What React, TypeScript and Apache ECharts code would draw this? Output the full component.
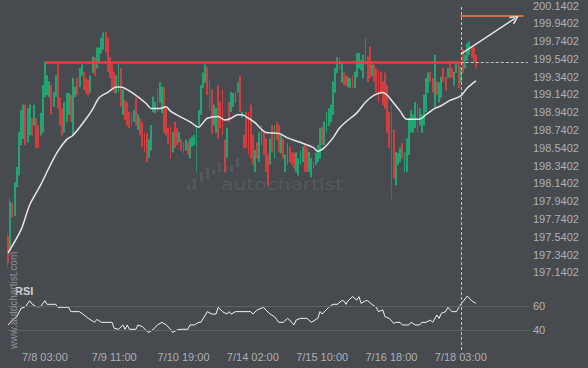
import React, { useEffect, useRef } from 'react';
import * as echarts from 'echarts';

// ---------- data ----------
const slotCount = 241;
const xTickIndex = [17, 49, 81, 113, 145, 177, 209];
const xTickLabels = ['7/8 03:00', '7/9 11:00', '7/10 19:00', '7/14 02:00', '7/15 10:00', '7/16 18:00', '7/18 03:00'];
const priceTickLabels = [
  '197.1402', '197.3402', '197.5402', '197.7402', '197.9402', '198.1402', '198.3402', '198.5402',
  '198.7402', '198.9402', '199.1402', '199.3402', '199.5402', '199.7402', '199.9402', '200.1402',
];
const rsiTickLabels = [40, 60];
const resistanceLevel = 199.5;
const resistanceFrom = 17;
const breakIndex = 209;
const targetLevel = 200.02;
const targetEnd = 238;
const arrowFrom = [209, 199.59];
const arrowTo = [234, 199.99];

// [open, close, low, high]
const candles: number[][] = [
  [197.55, 197.25, 197.2, 197.59], [197.38, 197.93, 197.34, 197.97], [197.92, 197.76, 197.76, 197.92], [197.78, 198.15, 197.78, 198.15],
  [198.1, 198.32, 198.1, 198.32], [198.23, 198.71, 198.23, 198.71], [198.57, 198.96, 198.57, 198.96], [198.64, 199.02, 198.64, 199.02],
  [199.02, 198.57, 198.57, 199.02], [198.6, 198.98, 198.6, 198.98], [198.68, 199.02, 198.68, 199.02], [198.87, 198.68, 198.68, 198.87],
  [198.79, 199.02, 198.79, 199.02], [198.87, 198.54, 198.54, 198.87], [198.79, 198.54, 198.54, 198.79], [198.68, 198.93, 198.68, 198.93],
  [198.71, 199.24, 198.71, 199.24], [199.11, 199.5, 199.11, 199.5], [199.13, 199.35, 199.13, 199.35], [199.11, 199.28, 199.11, 199.28],
  [199.24, 198.91, 198.91, 199.24], [199.0, 199.16, 199.0, 199.16], [199.11, 199.35, 199.11, 199.35], [199.47, 198.98, 198.98, 199.47],
  [199.1, 198.79, 198.79, 199.1], [198.98, 198.68, 198.68, 198.98], [198.71, 199.05, 198.71, 199.05], [198.83, 199.15, 198.83, 199.15],
  [198.91, 199.15, 198.91, 199.15], [199.13, 198.83, 198.83, 199.13], [198.68, 199.32, 198.68, 199.32], [199.11, 199.22, 199.11, 199.22],
  [199.32, 199.13, 199.13, 199.32], [199.22, 199.43, 199.22, 199.43], [199.35, 199.47, 199.35, 199.47], [199.39, 199.19, 199.19, 199.39],
  [199.32, 199.15, 199.15, 199.32], [199.3, 199.13, 199.13, 199.3], [199.16, 199.35, 199.16, 199.35], [199.38, 199.56, 199.38, 199.56],
  [199.55, 199.35, 199.35, 199.55], [199.43, 199.66, 199.43, 199.66], [199.5, 199.66, 199.5, 199.66], [199.6, 199.77, 199.6, 199.77],
  [199.64, 199.83, 199.64, 199.83], [199.84, 199.61, 199.61, 199.84], [199.77, 199.39, 199.39, 199.77], [199.55, 199.32, 199.32, 199.55],
  [199.47, 199.21, 199.21, 199.47], [199.39, 199.16, 199.16, 199.39], [199.15, 199.35, 199.15, 199.35], [199.16, 199.48, 199.16, 199.48],
  [199.43, 199.0, 199.0, 199.43], [198.91, 199.19, 198.91, 199.19], [199.07, 198.85, 198.85, 199.07], [199.05, 198.79, 198.79, 199.05],
  [198.94, 198.76, 198.76, 198.94], [198.93, 198.79, 198.79, 198.93], [198.83, 198.96, 198.83, 198.96], [199.1, 198.79, 198.79, 199.1],
  [198.74, 198.91, 198.74, 198.91], [198.87, 198.68, 198.68, 198.87], [198.82, 198.55, 198.55, 198.82], [198.71, 198.49, 198.49, 198.71],
  [198.7, 198.38, 198.38, 198.7], [198.43, 198.63, 198.43, 198.63], [198.51, 198.79, 198.51, 198.79], [198.94, 199.11, 198.94, 199.11],
  [198.93, 199.05, 198.93, 199.05], [199.21, 198.94, 198.94, 199.21], [199.05, 199.27, 199.05, 199.27], [198.93, 199.22, 198.93, 199.22],
  [199.22, 198.71, 198.71, 199.22], [198.98, 198.68, 198.68, 198.98], [198.76, 198.59, 198.59, 198.76], [198.79, 198.42, 198.42, 198.79],
  [198.49, 198.71, 198.49, 198.71], [198.83, 198.54, 198.54, 198.83], [198.76, 198.57, 198.57, 198.76], [198.6, 198.71, 198.6, 198.71],
  [198.63, 198.51, 198.51, 198.63], [198.6, 198.48, 198.48, 198.6], [198.51, 198.63, 198.51, 198.63], [198.6, 198.46, 198.46, 198.6],
  [198.42, 198.64, 198.42, 198.64], [198.55, 198.66, 198.55, 198.66], [198.57, 198.68, 198.57, 198.68], [198.57, 198.79, 198.26, 198.79],
  [198.79, 198.96, 198.79, 198.96], [198.91, 199.24, 198.91, 199.24], [199.21, 199.38, 199.21, 199.38], [199.27, 199.47, 199.27, 199.5],
  [199.44, 199.13, 199.13, 199.44], [199.3, 198.96, 198.96, 199.3], [199.19, 198.7, 198.7, 199.19], [198.79, 199.02, 198.79, 199.02],
  [198.71, 198.98, 198.71, 198.98], [199.24, 198.64, 198.64, 199.24], [199.05, 198.76, 198.76, 199.05], [199.19, 198.68, 198.68, 199.19],
  [198.63, 198.27, 198.27, 198.63], [198.43, 198.76, 198.43, 198.76], [199.05, 198.83, 198.83, 199.05], [198.94, 199.16, 198.94, 199.16],
  [199.0, 199.15, 199.0, 199.15], [199.04, 199.16, 199.04, 199.16], [199.16, 199.27, 199.16, 199.27], [199.35, 198.94, 198.94, 199.35],
  [198.88, 198.94, 198.88, 198.94], [198.68, 198.54, 198.54, 198.68], [198.94, 198.54, 198.54, 198.94], [198.94, 198.46, 198.46, 198.94],
  [199.02, 198.42, 198.42, 199.02], [198.68, 198.35, 198.35, 198.68], [198.27, 198.51, 198.27, 198.51], [198.6, 198.42, 198.42, 198.6],
  [198.38, 198.71, 198.38, 198.71], [198.57, 198.79, 198.57, 198.79], [198.71, 198.46, 198.46, 198.71], [198.64, 198.27, 198.27, 198.64],
  [198.46, 198.12, 198.12, 198.46], [198.35, 198.64, 198.35, 198.64], [198.79, 198.49, 198.49, 198.79], [198.42, 198.79, 198.42, 198.79],
  [198.82, 198.63, 198.63, 198.82], [198.79, 198.49, 198.49, 198.79], [198.48, 198.68, 198.48, 198.68], [198.64, 198.42, 198.42, 198.64],
  [198.27, 198.46, 198.27, 198.46], [198.35, 198.59, 198.35, 198.59], [198.55, 198.38, 198.38, 198.55], [198.49, 198.35, 198.35, 198.49],
  [198.48, 198.31, 198.31, 198.48], [198.27, 198.49, 198.27, 198.49], [198.23, 198.42, 198.23, 198.42], [198.35, 198.51, 198.35, 198.51],
  [198.38, 198.55, 198.38, 198.55], [198.57, 198.27, 198.27, 198.57], [198.54, 198.27, 198.27, 198.54], [198.27, 198.49, 198.27, 198.49],
  [198.21, 198.42, 198.21, 198.42], [198.31, 198.38, 198.31, 198.38], [198.35, 198.48, 198.35, 198.48], [198.38, 198.57, 198.38, 198.57],
  [198.42, 198.76, 198.42, 198.76], [198.77, 198.57, 198.57, 198.77], [198.57, 198.83, 198.57, 198.83], [198.71, 198.94, 198.71, 198.94],
  [198.79, 198.98, 198.79, 198.98], [198.83, 199.02, 198.83, 199.02], [198.91, 199.28, 198.91, 199.28], [199.16, 199.43, 199.16, 199.43],
  [199.38, 199.55, 199.38, 199.55], [199.55, 199.41, 199.41, 199.55], [199.27, 199.49, 199.27, 199.49], [199.38, 199.24, 199.24, 199.38],
  [199.35, 199.24, 199.24, 199.35], [199.22, 199.33, 199.22, 199.33], [199.21, 199.32, 199.21, 199.32], [199.35, 199.21, 199.21, 199.35],
  [199.21, 199.39, 199.21, 199.39], [199.33, 199.6, 199.33, 199.6], [199.43, 199.6, 199.43, 199.6], [199.41, 199.52, 199.41, 199.52],
  [199.32, 199.58, 199.32, 199.58], [199.77, 199.47, 199.47, 199.77], [199.56, 199.28, 199.28, 199.56], [199.67, 199.32, 199.32, 199.67],
  [199.35, 199.47, 199.35, 199.47], [199.47, 199.28, 199.28, 199.47], [199.43, 199.16, 199.16, 199.43], [199.41, 199.05, 199.05, 199.41],
  [199.39, 199.16, 199.16, 199.39], [199.28, 199.02, 199.02, 199.28], [199.38, 198.98, 198.98, 199.38], [199.24, 198.71, 198.71, 199.24],
  [198.94, 198.54, 198.54, 198.94], [198.92, 198.12, 197.95, 199.02], [198.74, 198.2, 198.2, 198.74], [198.12, 198.49, 198.12, 198.49],
  [198.35, 198.48, 198.35, 198.48], [198.38, 198.54, 198.38, 198.54], [198.59, 198.42, 198.42, 198.59], [198.27, 198.49, 198.27, 198.49],
  [198.27, 198.64, 198.27, 198.64], [198.46, 198.87, 198.46, 198.87], [198.71, 198.96, 198.71, 198.96], [198.71, 198.91, 198.71, 198.91],
  [198.76, 199.05, 198.76, 199.05], [199.02, 198.71, 198.71, 199.02], [198.79, 198.98, 198.79, 198.98], [198.71, 198.91, 198.71, 198.91],
  [198.79, 199.13, 198.79, 199.13], [198.94, 199.32, 198.94, 199.32], [199.16, 199.38, 199.16, 199.38], [199.39, 199.28, 199.28, 199.39],
  [199.32, 199.16, 199.16, 199.32], [199.0, 199.58, 199.0, 199.58], [199.28, 199.13, 199.13, 199.28], [199.05, 199.27, 199.05, 199.27],
  [199.1, 199.33, 199.1, 199.33], [199.43, 199.28, 199.28, 199.43], [199.33, 199.19, 199.19, 199.33], [199.33, 199.43, 199.33, 199.43],
  [199.49, 199.32, 199.32, 199.49], [199.43, 199.33, 199.33, 199.43], [199.24, 199.39, 199.24, 199.39], [199.38, 199.5, 199.38, 199.5],
  [199.49, 199.21, 199.21, 199.49], [199.27, 199.44, 199.27, 199.44], [199.64, 199.38, 199.38, 199.64], [199.43, 199.58, 199.43, 199.58],
  [199.52, 199.71, 199.52, 199.71], [199.58, 199.73, 199.58, 199.73], [199.67, 199.55, 199.55, 199.67], [199.66, 199.5, 199.5, 199.66],
  [199.58, 199.44, 199.44, 199.58],
];

// moving average: [slot, value]
const maPoints: number[][] = [
  [0, 197.36], [6, 197.62], [10, 197.9], [15, 198.12], [19, 198.32], [23, 198.5], [27, 198.63], [30, 198.68],
  [35, 198.83], [39, 198.97], [42, 199.1], [46, 199.16], [50, 199.22], [52, 199.22], [55, 199.19], [60, 199.11],
  [64, 199.03], [66, 198.98], [70, 198.98], [73, 199.0], [75, 198.95], [80, 198.88], [84, 198.83], [88, 198.77],
  [90, 198.82], [92, 198.87], [97, 198.89], [100, 198.85], [103, 198.87], [106, 198.91], [108, 198.91], [111, 198.87],
  [114, 198.82], [119, 198.71], [125, 198.7], [129, 198.65], [136, 198.59], [141, 198.54], [143, 198.5], [146, 198.54],
  [150, 198.65], [153, 198.76], [156, 198.83], [161, 198.93], [165, 199.05], [169, 199.13], [173, 199.16], [175, 199.13],
  [178, 199.04], [181, 198.95], [184, 198.86], [190, 198.86], [193, 198.91], [197, 198.98], [200, 199.01], [204, 199.07],
  [209, 199.12], [212, 199.21], [216, 199.29],
];

// RSI: [slot, value]
const rsiPoints: number[][] = [
  [0, 44.2], [2, 48.3], [4, 51], [6, 58], [8, 59.4], [10, 64.4], [11, 61.7], [13, 59.4], [15, 59.4], [17, 64.4],
  [18, 61.4], [22, 61.4], [23, 58.9], [28, 58.9], [29, 55.3], [33, 55.3], [37, 49.7], [40, 46.4], [41, 48.9], [43, 46.4],
  [48, 46.4], [49, 41.4], [51, 40.6], [53, 44.2], [54, 40.6], [55, 44.2], [56, 40.6], [59, 40.6], [60, 44.2], [62, 42.8],
  [64, 39.2], [65, 38], [67, 40.6], [69, 44.2], [71, 46.4], [73, 44.2], [75, 40.6], [76, 38], [78, 40], [80, 40.6],
  [83, 40.6], [84, 44.2], [86, 44.2], [88, 46.4], [89, 46.4], [92, 55.3], [94, 53.3], [96, 53.3], [97, 58.9], [99, 55.3],
  [101, 53.3], [102, 55.3], [103, 53.3], [105, 55.3], [112, 55.3], [113, 53.3], [115, 56.7], [118, 58.9], [119, 56.7], [121, 53.3],
  [123, 51.1], [125, 46.4], [127, 46.4], [129, 49.7], [130, 48.3], [132, 44.2], [133, 48.3], [135, 49.7], [138, 49.7], [140, 46.4],
  [143, 49.7], [144, 55.3], [145, 53.3], [148, 58.9], [150, 61.4], [152, 61.4], [154, 64.4], [155, 64.4], [156, 61.4], [157, 64.4],
  [159, 67.8], [161, 65], [162, 67.8], [163, 62.2], [165, 64.4], [166, 64.4], [168, 61.4], [170, 58.9], [171, 55.3], [173, 56.7],
  [174, 51.1], [176, 49.7], [178, 45.6], [179, 46.4], [181, 46.4], [182, 44.2], [185, 44.2], [186, 46.4], [188, 44.2], [190, 44.2],
  [191, 46.4], [193, 46.4], [195, 48.3], [196, 46.4], [198, 52.5], [199, 49.7], [200, 53.9], [202, 55.3], [203, 58.9], [205, 55.3],
  [207, 55.3], [209, 61.4], [210, 63.6], [212, 68.3], [214, 64.4], [216, 62.2],
];

// ---------- layout / style ----------
const BG = '#474a4f';
const UP = '#17c27e';
const DOWN = '#ff3b3b';
const AXIS_TEXT = '#aeb1b5';
const FONT = 'Liberation Sans, Arial, sans-serif';
const MAIN_TOP = 5;
const MAIN_H = 275;
const RSI_TOP = 280;
const RSI_H = 70;
const GRID_LEFT = 7;
const GRID_W = 522;
const PRICE_STEP = 0.2;
const PX_PER_STEP = 17.83;
const labelMax = priceTickLabels.length - 1;
const LABEL_H = labelMax * PX_PER_STEP;
const priceMax = parseFloat(priceTickLabels[labelMax]);
const priceMin = priceMax - (MAIN_H / PX_PER_STEP) * PRICE_STEP;
const RSI_PX_PER_UNIT = 1.2;
const RSI_LINE60_Y = 306;
const rsiMax = 60 + (RSI_LINE60_Y - RSI_TOP) / RSI_PX_PER_UNIT;
const rsiMin = rsiMax - RSI_H / RSI_PX_PER_UNIT;
// label-only grid for the RSI axis: 20..80
const RSI_LABEL_TOP = RSI_LINE60_Y - 40 * RSI_PX_PER_UNIT / 2;
const RSI_LABEL_H = 60 * RSI_PX_PER_UNIT;

const chevron = 'path://M5,0 L10,9 L8.6,9.9 L5,3.3 L1.4,9.9 L0,9 Z';

export default function App() {
  const ref = useRef<HTMLDivElement>(null);

  useEffect(() => {
    if (!ref.current) return;
    const chart = echarts.init(ref.current, null, { renderer: 'svg' });
    const cats = Array.from({ length: slotCount }, (_, i) => 'slot' + i);

    const logoBars = [
      [187, 185, 5], [193, 178, 12], [200, 172, 10], [206, 167, 12], [212, 170, 5],
      [218, 163, 9], [224, 166, 7], [230, 165, 7], [236, 158, 9],
    ];

    const hiddenX = (gridIndex: number) => ({
      type: 'value', gridIndex, min: 0, max: 1, show: false,
    });

    chart.setOption({
      animation: false,
      backgroundColor: BG,
      grid: [
        { left: GRID_LEFT, top: MAIN_TOP, width: GRID_W, height: MAIN_H },
        { left: GRID_LEFT, top: RSI_TOP, width: GRID_W, height: RSI_H },
        { left: GRID_LEFT, top: MAIN_TOP, width: GRID_W, height: LABEL_H },
        { left: GRID_LEFT, top: RSI_LABEL_TOP, width: GRID_W, height: RSI_LABEL_H },
      ],
      xAxis: [
        {
          type: 'category', gridIndex: 0, data: cats, boundaryGap: true,
          axisLine: { show: false }, axisTick: { show: false }, axisLabel: { show: false }, splitLine: { show: false },
        },
        {
          type: 'category', gridIndex: 1, data: cats, boundaryGap: true,
          axisLine: { show: false }, axisTick: { show: false }, splitLine: { show: false },
          axisLabel: {
            interval: (idx: number) => xTickIndex.indexOf(idx) >= 0,
            formatter: (_v: string, idx: number) => {
              const k = xTickIndex.indexOf(idx);
              return k >= 0 ? xTickLabels[k] : '';
            },
            color: AXIS_TEXT, fontSize: 11, fontFamily: FONT, margin: 1,
          },
        },
        hiddenX(2),
        hiddenX(3),
      ],
      yAxis: [
        { type: 'value', gridIndex: 0, min: priceMin, max: priceMax, show: false },
        { type: 'value', gridIndex: 1, min: rsiMin, max: rsiMax, show: false },
        {
          type: 'value', gridIndex: 2, position: 'right', min: 0, max: labelMax, interval: 1,
          axisLine: { show: false }, axisTick: { show: false }, splitLine: { show: false },
          axisLabel: {
            color: AXIS_TEXT, fontSize: 11, fontFamily: FONT, margin: 4,
            formatter: (v: number) => priceTickLabels[Math.round(v)] ?? '',
          },
        },
        {
          type: 'value', gridIndex: 3, position: 'right', min: 20, max: 80, interval: 20,
          axisLine: { show: false }, axisTick: { show: false }, splitLine: { show: false },
          axisLabel: {
            color: AXIS_TEXT, fontSize: 11, fontFamily: FONT, margin: 4,
            formatter: (v: number) => (rsiTickLabels.indexOf(Math.round(v)) >= 0 ? String(Math.round(v)) : ''),
          },
        },
      ],
      graphic: [
        ...logoBars.map(([x, y, h]) => ({
          type: 'rect', z: 0, silent: true,
          shape: { x, y, width: 3, height: h },
          style: { fill: '#54575c' },
        })),
        {
          type: 'text', z: 0, x: 221, y: 185, scaleX: 1.35, silent: true,
          style: { text: 'autochartist', fill: '#55585d', fontSize: 15, fontFamily: 'DejaVu Sans', align: 'left', verticalAlign: 'middle' },
        },
        {
          type: 'text', z: 50, x: 15, y: 291, silent: true,
          style: { text: 'RSI', fill: '#d2d2d2', fontSize: 11, fontWeight: 'bold', fontFamily: FONT, align: 'left', verticalAlign: 'middle' },
        },
        {
          type: 'text', z: 60, x: 13.5, y: 349, rotation: Math.PI / 2, silent: true,
          style: { text: 'www.autochartist.com', fill: '#8e9196', fontSize: 10, fontFamily: FONT, align: 'left', verticalAlign: 'middle' },
        },
      ],
      series: [
        {
          type: 'candlestick', xAxisIndex: 0, yAxisIndex: 0, data: candles, barWidth: 1.4,
          itemStyle: { color: UP, color0: DOWN, borderColor: UP, borderColor0: DOWN, borderWidth: 0.5 },
          markLine: {
            silent: true, symbol: ['none', 'none'], label: { show: false }, animation: false,
            data: [
              [
                { coord: [resistanceFrom, resistanceLevel], lineStyle: { color: '#f23d3d', width: 2.5, type: 'solid', opacity: 0.95 } },
                { coord: [breakIndex, resistanceLevel] },
              ],
              [
                { coord: [breakIndex, resistanceLevel], lineStyle: { color: '#c4c4c4', width: 1, type: [3, 2] } },
                { coord: [slotCount - 1, resistanceLevel] },
              ],
              { xAxis: breakIndex, lineStyle: { color: '#c4c4c4', width: 1, type: [3, 2] } },
              [
                { coord: [breakIndex, targetLevel], lineStyle: { color: '#ff7f3a', width: 1.5, type: 'solid' } },
                { coord: [targetEnd, targetLevel] },
              ],
              [
                { coord: arrowFrom, symbol: 'none', lineStyle: { color: '#e4e4e4', width: 1.5, type: 'solid' } },
                { coord: arrowTo, symbol: chevron, symbolSize: [9, 9] },
              ],
            ],
          },
        },
        {
          type: 'line', xAxisIndex: 0, yAxisIndex: 0, data: maPoints, showSymbol: false, smooth: 0.3,
          lineStyle: { color: '#e6e6e6', width: 1.5 }, z: 3,
        },
        {
          type: 'line', xAxisIndex: 1, yAxisIndex: 1, data: rsiPoints, showSymbol: false,
          lineStyle: { color: '#f2f2f2', width: 1 }, z: 3,
          markLine: {
            silent: true, symbol: ['none', 'none'], label: { show: false }, animation: false,
            data: [
              { yAxis: rsiTickLabels[0], lineStyle: { color: '#5e635f', width: 1, type: 'solid' } },
              { yAxis: rsiTickLabels[1], lineStyle: { color: '#5e635f', width: 1, type: 'solid' } },
              { xAxis: breakIndex, lineStyle: { color: '#c4c4c4', width: 1, type: [3, 2] } },
            ],
          },
        },
      ],
    });

    return () => chart.dispose();
  }, []);

  return (
    <div
      ref={ref}
      style={{ position: 'fixed', left: 0, top: 0, width: 588, height: 368, background: BG }}
    />
  );
}
